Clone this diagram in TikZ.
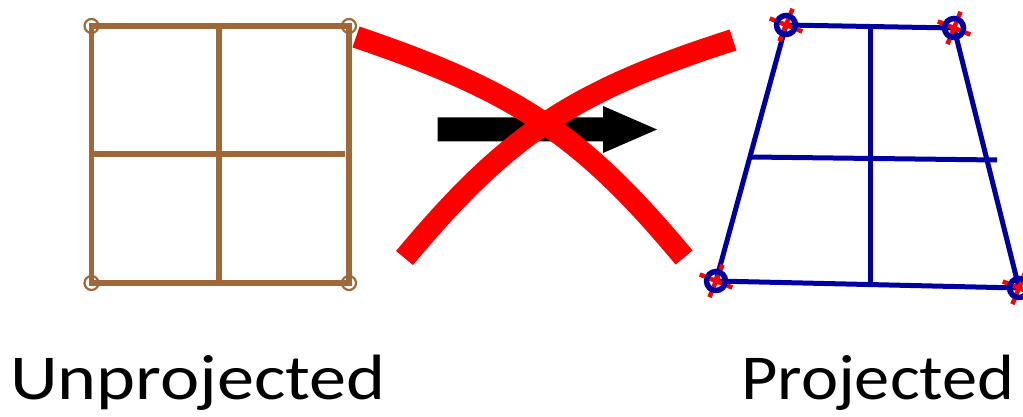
\documentclass[tikz,border=0pt]{standalone}
\usepackage{fontspec}
\setmainfont{Carlito}
\definecolor{gridbrown}{RGB}{158,104,56}
\definecolor{gridnavy}{RGB}{0,0,160}
\begin{document}
\begin{tikzpicture}[x=1pt,y=-1pt,
  browngrid/.style={draw=gridbrown,line width=5.5pt},
  browncorner/.style={draw=gridbrown,line width=2.2pt},
  bluegrid/.style={draw=gridnavy,line width=5pt},
  bluecorner/.style={draw=gridnavy,line width=5.5pt},
  redmark/.style={draw=red,line width=4.5pt},
  cross/.style={draw=red,line width=22pt},
  label/.style={anchor=base west,inner sep=0pt,font=\fontsize{64}{70}\selectfont}]
\useasboundingbox (0,0) rectangle (1023,417);
% unprojected grid
\coordinate (a1) at (91.5,26);
\coordinate (a2) at (349,26);
\coordinate (a3) at (349,283);
\coordinate (a4) at (91.5,283);
\coordinate (am1) at (219,26);
\coordinate (am2) at (219,283);
\coordinate (ah1) at (91.5,154);
\coordinate (ah2) at (345,154);
\draw[browngrid] (a1) rectangle (a3);
\draw[browngrid] (am1) -- (am2);
\draw[browngrid] (ah1) -- (ah2);
\foreach \c in {a1,a2,a3,a4} \draw[browncorner] (\c) circle[radius=7];
% projected grid
\coordinate (b1) at (786,25);
\coordinate (b2) at (954,28);
\coordinate (b3) at (1019,288);
\coordinate (b4) at (716,281);
\coordinate (bm1) at (870,26);
\coordinate (bm2) at (870,286);
\coordinate (bh1) at (751,157);
\coordinate (bh2) at (997,160);
\draw[bluegrid,line join=miter] (b1) -- (b2) -- (b3) -- (b4) -- cycle;
\draw[bluegrid] (bm1) -- (bm2);
\draw[bluegrid] (bh1) -- (bh2);
\foreach \c in {b1,b2,b3,b4}{
  \begin{scope}[shift={(\c)},rotate=-22]
    \draw[redmark] (-6.5,0) -- (6.5,0) (0,-6.5) -- (0,6.5);
    \draw[redmark] (12,0) -- (17.5,0) (-12,0) -- (-17.5,0) (0,12) -- (0,17.5) (0,-12) -- (0,-17.5);
  \end{scope}
  \draw[bluecorner] (\c) circle[radius=9.5];
}
% arrow
\fill[black] (437.5,117.5) -- (603,117.5) -- (603,106) -- (657,129.5) -- (603,153) -- (603,141.5) -- (437.5,141.5) -- cycle;
% red cross
\coordinate (r1) at (356,37);
\coordinate (r2) at (684,257.5);
\coordinate (r3) at (404.5,258);
\coordinate (r4) at (733,40);
\draw[cross] (r1) .. controls (516.8,91.4) and (582.4,135.5) .. (r2);
\draw[cross] (r3) .. controls (506.6,135.5) and (572.2,91.4) .. (r4);
% labels
\node[label] (t1) at (10,399) {\scalebox{1.16}[1]{Unprojected}};
\node[label] (t2) at (741,399) {\scalebox{1.1}[1]{Projected}};
\end{tikzpicture}
\end{document}
